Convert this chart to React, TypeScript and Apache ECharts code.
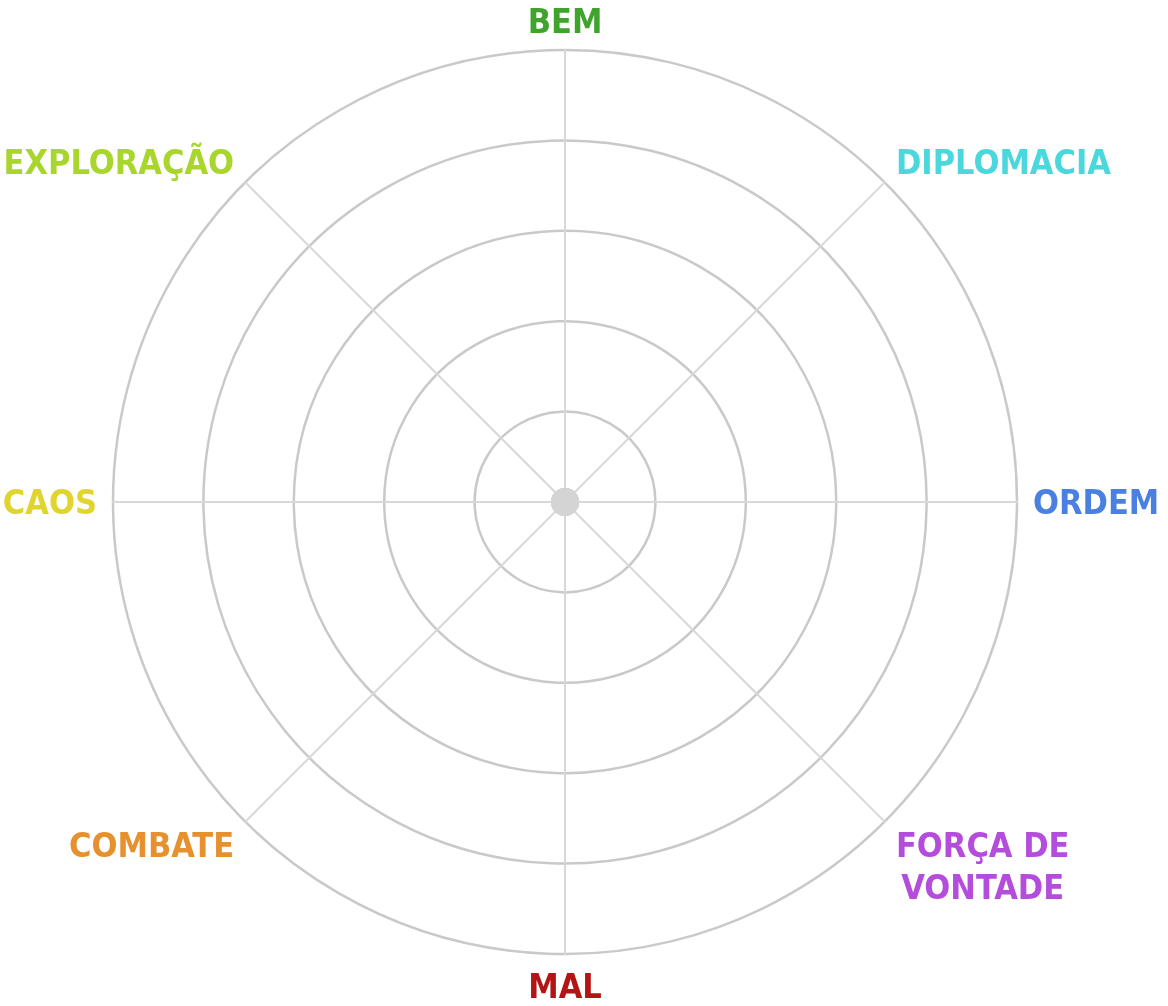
import React, { useEffect, useRef } from "react";
import * as echarts from "echarts";

// Listed in ECharts' (counter-clockwise) order, starting at the top.
const indicatorNames = ["BEM", "EXPLORAÇÃO", "CAOS", "COMBATE", "MAL", "FORÇA DE\nVONTADE", "ORDEM", "DIPLOMACIA"];
const indicatorColors = ["#3fa32c", "#a9d62c", "#e0d52e", "#e6902e", "#b31515", "#b44ddb", "#4a80e0", "#4bd8dc"];
// label nudges: [top, bottom] padding per indicator (shifts text by (top - bottom) / 2)
const labelPads = [[6, 0], [0, 18], [0, 0], [24, 0], [0, 0], [66, 0], [0, 0], [0, 18]];
const maxValue = 100;
const seriesValues = [0, 0, 0, 0, 0, 0, 0, 0];

const FONT = { fontFamily: "'DejaVu Sans Condensed', 'DejaVu Sans', sans-serif", fontWeight: "bold", fontSize: 34 };

export default function App() {
  const ref = useRef<HTMLDivElement>(null);
  useEffect(() => {
    const chart = echarts.init(ref.current!, null, { renderer: "svg" });
    const rich: Record<string, any> = {};
    indicatorNames.forEach((n, i) => {
      const [pt, pb] = labelPads[i];
      const multi = n.includes("\n");
      rich["s" + i] = {
        ...FONT,
        color: indicatorColors[i],
        lineHeight: multi ? 42 : 32,
        padding: [pt, 0, pb, 0],
        ...(multi ? { align: "center" } : {}),
      };
    });
    chart.setOption({
      animation: false,
      radar: {
        center: [565, 502],
        radius: 452,
        shape: "circle",
        splitNumber: 5,
        startAngle: 90,
        nameGap: 16,
        indicator: indicatorNames.map((n, i) => ({ name: n, max: maxValue, color: indicatorColors[i] })),
        axisName: {
          ...FONT,
          formatter: (name: string) => {
            const i = indicatorNames.indexOf(name);
            return name
              .split("\n")
              .map((l) => `{s${i}|${l}}`)
              .join("\n");
          },
          rich,
        },
        splitArea: { show: false },
        splitLine: { lineStyle: { color: "#c9c9c9", width: 2.5 } },
        axisLine: { lineStyle: { color: "#d8d8d8", width: 2 } },
      },
      series: [
        {
          type: "radar",
          symbol: "circle",
          symbolSize: 28,
          itemStyle: { color: "#d4d4d4" },
          lineStyle: { width: 0 },
          data: [{ value: seriesValues }],
        },
      ],
    });
    return () => chart.dispose();
  }, []);
  return <div ref={ref} style={{ position: "fixed", left: 0, top: 0, width: 1168, height: 1006 }} />;
}
